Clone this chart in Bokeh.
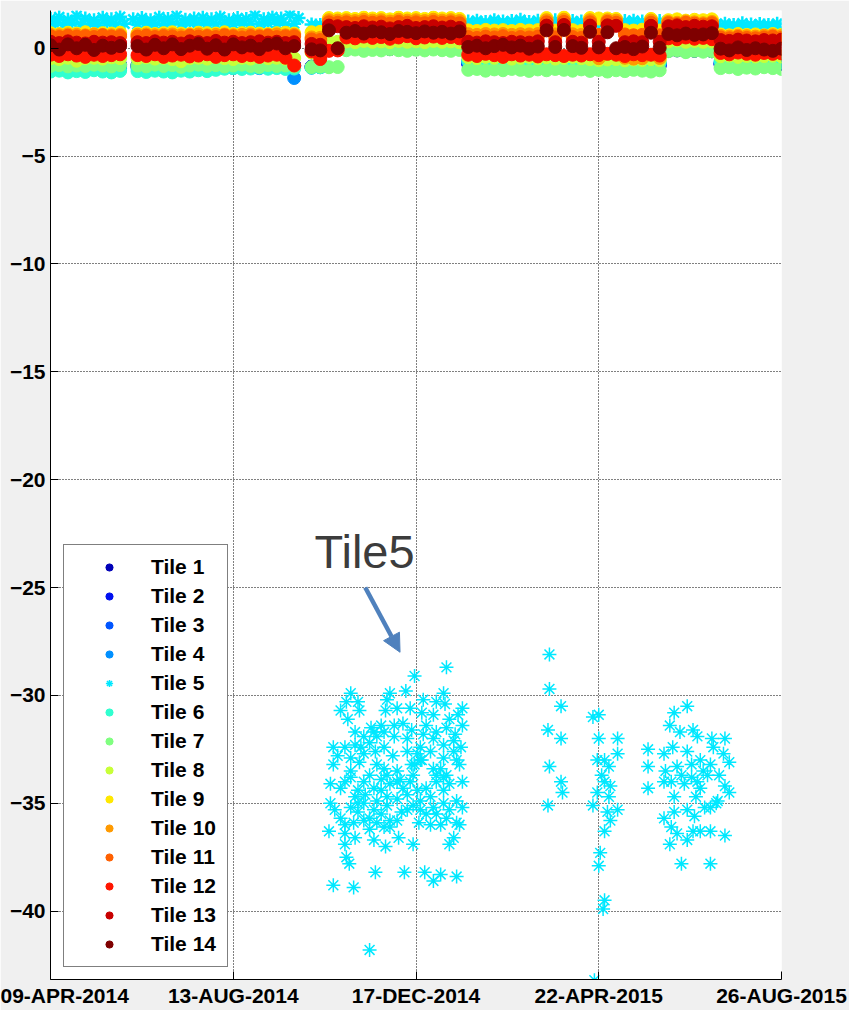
import numpy as np
from bokeh.plotting import figure
from bokeh.models import (Range1d, FixedTicker, Legend, LegendItem, Label, Arrow,
                          NormalHead)
from bokeh.embed import file_html
from bokeh.resources import INLINE

# ---------------- data ----------------
start_date = "2014-04-09"
end_date = "2015-08-26"
tick_dates = ["2014-04-09", "2014-08-13", "2014-12-17", "2015-04-22", "2015-08-26"]
tick_labels = ["09-APR-2014", "13-AUG-2014", "17-DEC-2014", "22-APR-2015", "26-AUG-2015"]
y_ticks = [0, -5, -10, -15, -20, -25, -30, -35, -40]

tile_names = ["Tile 1", "Tile 2", "Tile 3", "Tile 4", "Tile 5", "Tile 6", "Tile 7",
              "Tile 8", "Tile 9", "Tile 10", "Tile 11", "Tile 12", "Tile 13", "Tile 14"]
tile_colors = ["#0000B8", "#0010F0", "#0055FF", "#0090FF", "#00E8FF", "#30FFD0", "#80FF80",
               "#C8FF38", "#FFE800", "#FF9A00", "#FF6000", "#FF1500", "#C80000", "#7F0000"]

# days since 9-APR-2014 of the readings (every 6 days)
sample_step_days = 6
# segments: S1(9) gap S2(19) gap S3(3) T(1) S4(14) S5(14) S6(9) S7(6) S8(8) = 85 samples
tile1 = ([-0.78, -0.80, -0.76, -0.78, -0.80, -0.76, -0.78, -0.80, -0.76] + [None] +
         [-0.78, -0.80, -0.76, -0.78, -0.80, -0.76, -0.78, -0.80, -0.76, -0.78, -0.80, -0.76, -0.78, -0.80, -0.76, -0.78, -0.80, -0.76, -0.78] + [None] +
         [-0.85, -0.84, -0.02] + [-0.02] +
         [-0.02, 0.00, -0.04, -0.02, 0.00, -0.04, -0.02, 0.00, -0.04, -0.02, 0.00, -0.04, -0.02, 0.00] +
         [-0.72, -0.70, -0.74, -0.72, -0.70, -0.74, -0.72, -0.70, -0.74, -0.72, -0.70, -0.74, -0.72, -0.70] +
         [-0.78, -0.76, -0.80, -0.78, -0.76, -0.80, -0.78, -0.76, -0.80] +
         [-0.12, -0.10, -0.14, -0.12, -0.10, -0.14] +
         [-0.75, -0.73, -0.77, -0.75, -0.73, -0.77, -0.75, -0.73])
tile2 = ([-0.80, -0.82, -0.78, -0.80, -0.82, -0.78, -0.80, -0.82, -0.78] + [None] +
         [-0.80, -0.82, -0.78, -0.80, -0.82, -0.78, -0.80, -0.82, -0.78, -0.80, -0.82, -0.78, -0.80, -0.82, -0.78, -0.80, -0.82, -0.78, -0.80] + [None] +
         [-0.86, -0.85, 0.00] + [0.00] +
         [0.00, 0.02, -0.02, 0.00, 0.02, -0.02, 0.00, 0.02, -0.02, 0.00, 0.02, -0.02, 0.00, 0.02] +
         [-0.70, -0.68, -0.72, -0.70, -0.68, -0.72, -0.70, -0.68, -0.72, -0.70, -0.68, -0.72, -0.70, -0.68] +
         [-0.75, -0.73, -0.77, -0.75, -0.73, -0.77, -0.75, -0.73, -0.77] +
         [-0.10, -0.08, -0.12, -0.10, -0.08, -0.12] +
         [-0.72, -0.70, -0.74, -0.72, -0.70, -0.74, -0.72, -0.70])
tile3 = ([-0.85, -0.87, -0.83, -0.85, -0.87, -0.83, -0.85, -0.87, -0.83] + [None] +
         [-0.85, -0.87, -0.83, -0.85, -0.87, -0.83, -0.85, -0.87, -0.83, -0.85, -0.87, -0.83, -0.85, -0.87, -0.83, -0.85, -0.87, -0.83, -0.85] + [None] +
         [-0.88, -0.86, 0.05] + [0.05] +
         [0.05, 0.07, 0.03, 0.05, 0.07, 0.03, 0.05, 0.07, 0.03, 0.05, 0.07, 0.03, 0.05, 0.07] +
         [-0.65, -0.63, -0.67, -0.65, -0.63, -0.67, -0.65, -0.63, -0.67, -0.65, -0.63, -0.67, -0.65, -0.63] +
         [-0.72, -0.70, -0.74, -0.72, -0.70, -0.74, -0.72, -0.70, -0.74] +
         [-0.08, -0.06, -0.10, -0.08, -0.06, -0.10] +
         [-0.70, -0.68, -0.72, -0.70, -0.68, -0.72, -0.70, -0.68])
tile4 = ([-0.90, -0.88, -0.92, -0.90, -0.88, -0.92, -0.90, -0.88, -0.92] + [None] +
         [-0.90, -0.88, -0.92, -0.90, -0.88, -0.92, -0.90, -0.88, -0.92, -0.90, -0.88, -0.92, -0.90, -0.88, -0.92, -0.90, -0.88, -0.92, -1.38] + [None] +
         [-0.90, -0.88, 0.10] + [0.10] +
         [0.08, 0.12, 0.10, 0.08, 0.12, 0.10, 0.08, 0.12, 0.10, 0.08, 0.12, 0.10, 0.08, 0.12] +
         [-0.62, -0.60, -0.64, -0.62, -0.60, -0.64, -0.62, -0.60, -0.64, -0.62, -0.60, -0.64, -0.62, -0.60] +
         [-0.69, -0.67, -0.71, -0.69, -0.67, -0.71, -0.69, -0.67, -0.71] +
         [-0.05, -0.03, -0.07, -0.05, -0.03, -0.07] +
         [-0.66, -0.64, -0.68, -0.66, -0.64, -0.68, -0.66, -0.64])
tile6 = ([-1.08, -1.04, -1.12, -1.06, -1.10, -1.02, -1.08, -1.12, -1.05] + [None] +
         [-1.06, -1.10, -1.04, -1.08, -1.12, -1.04, -1.08, -1.02, -1.06, -1.00, -0.95, -0.92, -0.96, -0.94, -0.90, -0.95, -0.92, -0.96, -0.94] + [None] +
         [-0.90, -0.88, 0.20] + [0.20] +
         [0.22, 0.20, 0.24, 0.22, 0.20, 0.24, 0.22, 0.20, 0.24, 0.22, 0.20, 0.24, 0.22, 0.20] +
         [-0.58, -0.62, -0.56, -0.60, -0.64, -0.58, -0.60, -0.62, -0.56, -0.60, -0.64, -0.58, -0.62, -0.60] +
         [-0.62, -0.66, -0.60, -0.64, -0.66, -0.62, -0.64, -0.60, -0.66] +
         [0.00, 0.02, -0.02, 0.00, 0.02, -0.02] +
         [-0.60, -0.64, -0.58, -0.62, -0.66, -0.60, -0.62, -0.64])
tile7 = ([-0.82, -0.78, -0.84, -0.80, -0.82, -0.76, -0.80, -0.84, -0.78] + [None] +
         [-0.80, -0.84, -0.76, -0.82, -0.78, -0.86, -0.80, -0.76, -0.82, -0.78, -0.84, -0.80, -0.76, -0.82, -0.86, -0.78, -0.82, -0.80, -0.84] + [None] +
         [-0.87, -0.85, -0.88] + [-0.87] +
         [-0.09, -0.06, -0.12, -0.08, -0.10, -0.05, -0.09, -0.12, -0.07, -0.10, -0.06, -0.09, -0.12, -0.08] +
         [-1.00, -0.96, -1.04, -0.98, -1.02, -0.96, -1.00, -1.05, -0.98, -1.02, -0.96, -1.00, -1.04, -0.98] +
         [-1.05, -1.00, -1.08, -1.02, -1.06, -1.00, -1.04, -1.08, -1.02] +
         [-0.14, -0.10, -0.18, -0.12, -0.16, -0.14] +
         [-0.92, -0.88, -0.96, -0.90, -0.94, -0.88, -0.92, -0.96])
tile8 = ([-0.46, -0.50, -0.44, -0.58, -0.46, -0.44, -0.48, -0.42, -0.46] + [None] +
         [-0.46, -0.42, -0.48, -0.44, -0.50, -0.60, -0.46, -0.44, -0.48, -0.42, -0.46, -0.50, -0.44, -0.48, -0.42, -0.46, -0.44, -0.48, -0.46] + [None] +
         [-0.20, -0.22, 0.30] + [0.30] +
         [0.32, 0.28, 0.34, 0.30, 0.32, 0.28, 0.34, 0.30, 0.32, 0.28, 0.34, 0.30, 0.32, 0.28] +
         [-0.42, -0.46, -0.40, -0.44, -0.42, -0.48, -0.44, -0.40, -0.46, -0.42, -0.48, -0.44, -0.40, -0.46] +
         [-0.50, -0.55, -0.52, -0.50, -0.56, -0.52, -0.54, -0.50, -0.55] +
         [0.32, 0.36, 0.30, 0.34, 0.30, 0.32] +
         [-0.37, -0.34, -0.40, -0.36, -0.38, -0.36, -0.34, -0.38])
tile9 = ([0.70, 0.66, 0.72, 0.68, 0.74, 0.66, 0.70, 0.68, 0.72] + [None] +
         [0.68, 0.72, 0.66, 0.70, 0.74, 0.68, 0.66, 0.72, 0.70, 0.68, 0.74, 0.66, 0.70, 0.72, 0.68, 0.66, 0.70, 0.72, 0.68] + [None] +
         [0.74, 0.76, 1.40] + [1.38] +
         [1.40, 1.36, 1.42, 1.38, 1.40, 1.34, 1.42, 1.38, 1.40, 1.36, 1.42, 1.38, 1.40, 1.36] +
         [0.83, 0.80, 0.85, 0.82, 0.84, 0.80, 0.85, 0.82, 0.84, 1.40, 0.82, 1.42, 0.84, 0.80] +
         [1.40, 1.38, 1.38, 1.36, 0.84, 0.82, 0.86, 1.36, 0.82] +
         [1.30, 1.34, 1.28, 1.32, 1.30, 1.34] +
         [0.64, 0.60, 0.66, 0.62, 0.64, 0.60, 0.66, 0.62])
tile10 = ([0.62, 0.60, 0.64, 0.62, 0.60, 0.64, 0.62, 0.60, 0.62] + [None] +
          [0.62, 0.64, 0.60, 0.62, 0.64, 0.60, 0.62, 0.64, 0.60, 0.62, 0.64, 0.60, 0.62, 0.64, 0.60, 0.62, 0.64, 0.60, 0.62] + [None] +
          [0.50, 0.48, 1.30] + [1.28] +
          [1.30, 1.26, 1.32, 1.28, 1.30, 1.24, 1.32, 1.28, 1.30, 1.26, 1.32, 1.28, 1.30, 1.26] +
          [0.65, 0.62, 0.66, 0.64, 0.66, 0.62, 0.65, 0.64, 0.66, 1.30, 0.64, 1.32, 0.65, 0.62] +
          [1.30, -0.46, 1.30, 1.28, -0.44, -0.48, -0.46, 1.28, -0.45] +
          [1.22, 1.18, 1.24, 1.20, 1.16, 1.22] +
          [0.57, 0.54, 0.58, 0.56, 0.54, 0.58, 0.60, 0.56])
tile11 = ([0.56, 0.52, 0.58, 0.54, 0.56, 0.52, 0.60, 0.54, 0.56] + [None] +
          [0.54, 0.58, 0.52, 0.56, 0.55, 0.50, 0.58, 0.54, 0.56, 0.52, 0.60, 0.55, 0.50, 0.56, 0.54, 0.58, 0.52, 0.55, 0.56] + [None] +
          [0.41, 0.38, 1.20] + [1.18] +
          [1.20, 1.16, 1.22, 1.18, 1.20, 1.14, 1.22, 1.18, 1.20, 1.16, 1.22, 1.18, 1.20, 1.16] +
          [0.52, 0.48, 0.54, 0.50, 0.56, 0.48, 0.52, 0.50, 0.54, 1.20, 0.50, 1.22, 0.52, 0.48] +
          [1.20, 0.62, 1.22, 1.18, 0.64, 0.60, 0.62, 1.18, 0.60] +
          [1.16, 1.12, 1.18, 1.14, 1.10, 1.16] +
          [0.50, 0.46, 0.52, 0.48, 0.46, 0.50, 0.54, 0.48])
tile12 = ([-0.30, -0.36, -0.28, -0.34, -0.40, -0.30, -0.36, -0.32, -0.28] + [None] +
          [-0.32, -0.36, -0.28, -0.40, -0.34, -0.30, -0.38, -0.34, -0.28, -0.40, -0.32, -0.28, -0.36, -0.32, -0.40, -0.34, -0.30, -0.44, -0.80] + [None] +
          [-0.15, -0.50, -0.12] + [-0.10] +
          [0.50, 0.46, 0.54, 0.48, 0.52, 0.44, 0.50, 0.56, 0.46, 0.50, 0.54, 0.48, 0.52, 0.46] +
          [-0.30, -0.36, -0.26, -0.32, -0.40, -0.28, -0.34, -0.30, -0.38, -0.28, -0.32, -0.36, -0.30, -0.34] +
          [-0.28, -0.32, -0.26, -0.30, -0.36, -0.28, -0.32, -0.30, -0.34] +
          [0.46, 0.42, 0.50, 0.44, 0.48, 0.42] +
          [-0.22, -0.28, -0.20, -0.26, -0.30, -0.22, -0.26, -0.24])
tile13 = ([0.30, 0.24, 0.32, 0.26, 0.22, 0.30, 0.26, 0.28, 0.24] + [None] +
          [0.28, 0.24, 0.32, 0.26, 0.30, 0.22, 0.32, 0.28, 0.24, 0.34, 0.26, 0.30, 0.24, 0.28, 0.32, 0.26, 0.30, 0.24, 0.28] + [None] +
          [0.20, 0.16, 1.05] + [1.02] +
          [0.98, 0.94, 1.02, 0.96, 1.00, 0.92, 0.98, 1.04, 0.94, 0.98, 1.02, 0.96, 1.00, 0.94] +
          [0.30, 0.26, 0.32, 0.28, 0.24, 0.30, 0.28, 0.26, 0.32, 1.05, 0.28, 1.08, 0.30, 0.26] +
          [1.05, 0.30, 1.06, 1.04, 0.28, 0.32, 0.28, 1.04, 0.30] +
          [1.02, 1.06, 0.98, 1.04, 1.00, 1.02] +
          [0.38, 0.34, 0.40, 0.36, 0.32, 0.38, 0.36, 0.40])
tile14 = ([0.14, -0.06, 0.18, 0.00, 0.16, -0.08, 0.12, 0.02, 0.10] + [None] +
          [0.10, -0.06, 0.16, 0.00, 0.18, -0.04, 0.12, 0.20, -0.02, 0.14, -0.06, 0.18, 0.04, 0.12, -0.04, 0.16, 0.22, 0.00, 0.10] + [None] +
          [-0.05, -0.10, 0.83] + [0.00] +
          [0.72, 0.80, 0.68, 0.78, 0.74, 0.66, 0.80, 0.76, 0.70, 0.78, 0.72, 0.76, 0.68, 0.78] +
          [0.06, 0.12, 0.00, 0.10, 0.16, 0.04, 0.12, -0.02, 0.08, 0.83, 0.06, 0.85, 0.10, 0.02] +
          [0.76, 0.04, 0.74, 0.00, 0.06, -0.04, 0.08, 0.72, 0.02] +
          [0.66, 0.60, 0.68, 0.62, 0.64, 0.70] +
          [-0.02, -0.10, 0.04, -0.08, 0.00, -0.06, -0.12, -0.02])

# Tile 5 normal readings (every 3 days): S1(18) gap(1) S2(39) gap(2) S3(6) none(30) S5(28) S6(18) none(11) S8(16)
tile5_step_days = 3
tile5_band = ([1.36, 1.12, 1.44, 1.08, 1.32, 1.18, 1.50, 1.10, 1.38, 1.14, 1.30, 1.06, 1.42, 1.16, 1.34, 1.10, 1.46, 1.14] +
              [None] +
              [1.34, 1.10, 1.40, 1.16, 1.30, 1.08, 1.44, 1.14, 1.36, 1.12,
               1.50, 1.10, 1.32, 1.18, 1.38, 1.08, 1.42, 1.14, 1.34, 1.10,
               1.46, 1.16, 1.30, 1.12, 1.40, 1.08, 1.36, 1.14, 1.52, 1.10,
               1.34, 1.16, 1.44, 1.12, 1.38, 1.08, 1.54, 1.14, 1.40] +
              [None, None] +
              [1.10, 1.06, 1.08, 1.04, 1.08, 1.06] +
              [None] * 30 +
              [1.24, 1.14, 1.28, 1.16, 1.22, 1.12, 1.30, 1.18, 1.24, 1.14,
               1.26, 1.16, 1.32, 1.18, 1.22, 1.12, 1.28, 1.16, 1.24, 1.14,
               1.30, 1.18, 1.22, 1.14, 1.26, 1.16, 1.24, 1.12] +
              [1.26, 1.16, 1.30, 1.18, 1.24, 1.14, 1.32, 1.16, 1.26, 1.18, 1.28, 1.14, 1.24, 1.16, 1.30, 1.18, 1.26, 1.14] +
              [None] * 11 +
              [1.10, 1.02, 1.14, 1.04, 1.08, 1.00, 1.16, 1.04, 1.10, 1.02, 1.12, 1.06, 1.08, 1.00, 1.14, 1.04])

# Tile 5 bad readings: (days since 9-APR-2014, value)
tile5_outliers = [
    (273, -28.7), (251, -29.1), (207, -29.9), (234, -29.9), (245, -29.8), (271, -29.9), (204, -30.3), (212, -30.3),
    (232, -30.2), (257, -30.2), (266, -30.3), (272, -30.4), (200, -30.7), (205, -31.1), (213, -30.7), (231, -30.7),
    (239, -30.6), (248, -30.6), (256, -30.8), (264, -30.9), (275, -31.1), (284, -30.6), (281, -30.9), (210, -31.7),
    (216, -31.9), (221, -31.5), (228, -31.4), (237, -31.4), (243, -31.3), (249, -31.6), (259, -31.4), (266, -31.7),
    (273, -31.5), (279, -31.8), (284, -31.4), (225, -31.9), (237, -31.9), (257, -31.8), (195, -32.4), (203, -32.4),
    (210, -32.3), (220, -32.2), (224, -32.6), (230, -32.4), (236, -32.8), (246, -32.6), (255, -32.4), (262, -32.6),
    (271, -32.3), (278, -32.6), (283, -32.4), (198, -32.8), (216, -32.7), (207, -32.9), (255, -33.0), (271, -32.9),
    (280, -33.0), (195, -33.2), (213, -33.1), (225, -33.2), (239, -33.5), (249, -33.2), (264, -33.4), (273, -33.7),
    (282, -33.2), (220, -33.7), (207, -33.5), (230, -33.4), (269, -33.4), (193, -34.1), (203, -34.0), (207, -33.8),
    (216, -34.0), (223, -34.3), (234, -34.1), (241, -33.9), (248, -34.0), (259, -34.3), (266, -34.0), (275, -34.1),
    (284, -34.0), (200, -34.3), (212, -34.4), (228, -33.9), (253, -34.4), (271, -34.4), (210, -34.7), (217, -34.6),
    (225, -34.9), (232, -34.7), (239, -34.8), (246, -34.6), (255, -34.9), (262, -34.7), (271, -35.0), (280, -34.9),
    (193, -35.0), (196, -35.3), (216, -35.0), (250, -35.1), (284, -35.2), (232, -35.1), (264, -35.2), (212, -35.4),
    (220, -35.7), (228, -35.5), (234, -35.8), (242, -35.4), (254, -35.9), (262, -36.0), (273, -35.7), (280, -35.9),
    (282, -36.0), (203, -36.0), (225, -35.9), (266, -35.5), (209, -35.9), (192, -36.3), (203, -36.4), (210, -36.6),
    (220, -36.2), (223, -36.7), (231, -37.0), (240, -36.6), (250, -36.9), (275, -36.9), (278, -36.6), (203, -36.9),
    (230, -36.1), (234, -36.1), (204, -37.5), (206, -37.8), (224, -38.2), (244, -38.2), (258, -38.2), (269, -38.3),
    (264, -38.6), (280, -38.4), (195, -38.8), (209, -38.9), (220, -41.8),
    (253, -32.7), (256, -33.0), (251, -33.2), (239, -34.0), (243, -34.3), (266, -33.7), (271, -33.8), (228, -34.4),
    (212, -35.0), (223, -35.3), (246, -35.3), (255, -35.3), (259, -35.5), (239, -35.8), (216, -35.8), (275, -35.3),
    (250, -33.7), (232, -33.7), (214, -32.4), (223, -31.7), (230, -31.7), (246, -32.0), (264, -32.0), (278, -32.1),
    (207, -35.2), (200, -35.7), (269, -36.0),
    (344, -28.1), (344, -29.7), (352, -30.5), (343, -31.6), (352, -32.0), (344, -33.3), (352, -34.0), (353, -34.5),
    (343, -35.1), (374, -31.0), (378, -30.9), (378, -32.0), (391, -32.0), (391, -32.7), (377, -33.0), (382, -33.0),
    (385, -33.3), (380, -33.7), (382, -34.0), (386, -34.2), (377, -34.5), (385, -34.7), (374, -35.1), (384, -35.4),
    (391, -35.3), (386, -35.8), (382, -36.3), (379, -37.3), (378, -37.9), (382, -39.5), (381, -39.9), (375, -43.2),
    (412, -32.5), (412, -33.3), (412, -34.3), (430, -30.8), (439, -30.5), (427, -31.4), (434, -31.7), (443, -31.6),
    (446, -31.9), (456, -32.0), (465, -32.0), (423, -32.7), (429, -32.4), (439, -32.6), (448, -33.0), (457, -32.4),
    (464, -32.7), (468, -33.1), (424, -33.5), (432, -33.3), (442, -33.2), (450, -33.5), (455, -33.2), (461, -33.7),
    (428, -34.0), (435, -33.7), (446, -34.0), (453, -33.7), (465, -34.2), (468, -34.5), (423, -34.0), (430, -34.7),
    (445, -34.7), (451, -35.2), (459, -35.0), (439, -35.3), (444, -35.6), (430, -35.4), (423, -35.7), (428, -36.1),
    (432, -36.4), (443, -36.3), (448, -36.3), (455, -36.3), (439, -36.7), (465, -36.5), (427, -36.9), (435, -37.8),
    (455, -37.8), (460, -34.9), (437, -34.1), (448, -34.3), (455, -35.2), (442, -33.8),
]

annotation_text = "Tile5"
annotation_pos = (182, -23.35)         # (day, value) of the text
arrow_from = (217, -25.0)              # (day, value)
arrow_to = (241, -28.0)

# ---------------- helpers ----------------
DAY_MS = 86400000.0
def to_ms(d):
    return float((np.datetime64(d, "ms") - np.datetime64("1970-01-01T00:00:00", "ms")) / np.timedelta64(1, "ms"))

t0 = to_ms(start_date)
def day_ms(days):
    return t0 + np.asarray(days, dtype=float) * DAY_MS

tiles = [tile1, tile2, tile3, tile4, None, tile6, tile7, tile8, tile9, tile10, tile11, tile12, tile13, tile14]

# ---------------- figure ----------------
p = figure(width=849, height=1010, x_axis_type="datetime",
           x_range=Range1d(start=to_ms(start_date), end=to_ms(end_date)),
           y_range=Range1d(start=-43.17, end=1.75),
           output_backend="svg", toolbar_location=None,
           min_border_left=50, min_border_right=68, min_border_top=10, min_border_bottom=31,
           background_fill_color="white", border_fill_color="#f0f0f0",
           outline_line_color=None)
p.title.visible = False

tick_ms = [to_ms(d) for d in tick_dates]
p.xaxis.ticker = FixedTicker(ticks=tick_ms)
p.xaxis.major_label_overrides = {float(t): lab for t, lab in zip(tick_ms, tick_labels)}
p.yaxis.ticker = FixedTicker(ticks=y_ticks)

for ax in (p.xaxis[0], p.yaxis[0]):
    ax.major_tick_in = 8
    ax.major_tick_out = 0
    ax.minor_tick_in = 0
    ax.minor_tick_out = 0
    ax.axis_line_color = "black"
    ax.axis_line_width = 1
    ax.major_tick_line_color = "black"
    ax.major_label_text_font = "Liberation Sans"
    ax.major_label_text_font_style = "bold"
    ax.major_label_text_font_size = "21px"
    ax.major_label_text_color = "black"
p.xaxis.major_label_standoff = 4
p.yaxis.major_label_standoff = 5

for g in (p.xgrid[0], p.ygrid[0]):
    g.grid_line_color = "black"
    g.grid_line_dash = "1 2"
    g.grid_line_width = 1

legend_items = []
for i, (name, color) in enumerate(zip(tile_names, tile_colors)):
    if i == 4:
        band_days = np.arange(len(tile5_band)) * tile5_step_days
        band_vals = np.array([np.nan if v is None else v for v in tile5_band], dtype=float)
        p.scatter(x=day_ms(band_days), y=band_vals, marker="asterisk", size=14,
                  line_color=color, line_width=2.5)
        od = [d for d, v in tile5_outliers]
        ov = [v for d, v in tile5_outliers]
        r = p.scatter(x=day_ms(od), y=ov, marker="asterisk", size=14,
                      line_color=color, line_width=1.5)
    else:
        vals = tiles[i]
        days = np.arange(len(vals)) * sample_step_days
        yv = np.array([np.nan if v is None else v for v in vals], dtype=float)
        r = p.scatter(x=day_ms(days), y=yv, marker="circle", size=13,
                      fill_color=color, line_color=color)
    legend_items.append(LegendItem(label=name, renderers=[r]))

legend = Legend(items=legend_items, location=(13, 12),
                label_text_font="Liberation Sans", label_text_font_style="bold",
                label_text_font_size="21px", label_text_color="black",
                glyph_width=70, glyph_height=18, label_height=24, label_width=66,
                label_standoff=7, spacing=5, padding=10, margin=0,
                border_line_color="black", border_line_width=1,
                background_fill_color="white", background_fill_alpha=1.0)
p.add_layout(legend)

p.add_layout(Label(x=float(day_ms(annotation_pos[0])), y=annotation_pos[1], text=annotation_text,
                   text_font="Liberation Sans", text_font_size="47px",
                   text_color="#3c3c3c", text_baseline="alphabetic", text_align="left"))

p.add_layout(Arrow(end=NormalHead(size=18, fill_color="#4F81BD", line_color="#4F81BD"),
                   x_start=float(day_ms(arrow_from[0])), y_start=arrow_from[1],
                   x_end=float(day_ms(arrow_to[0])), y_end=arrow_to[1],
                   line_color="#4F81BD", line_width=4.5))

html = file_html(p, INLINE)
open("out.html", "w").write(html)
